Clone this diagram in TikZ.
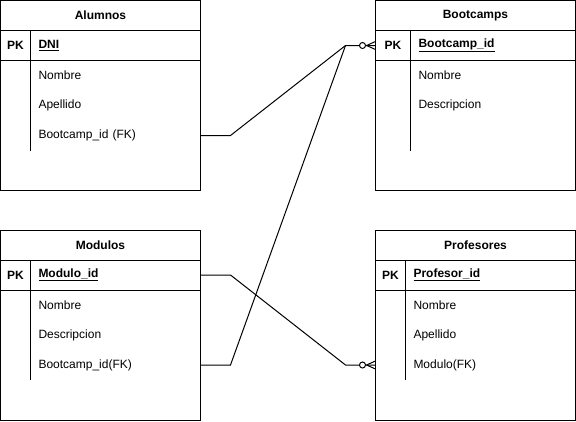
\documentclass[tikz,border=0pt]{standalone}
\usepackage{fontspec}
\setmainfont{Liberation Sans}
\usetikzlibrary{positioning}
\newcommand{\erfont}{\fontsize{12pt}{14pt}\selectfont}
\tikzstyle{entity} = [rectangle, draw=black, line width=1pt, minimum width=200pt, minimum height=190pt, inner sep=0, outer sep=0, anchor=north west]
\tikzstyle{heading} = [rectangle, minimum width=200pt, minimum height=30pt, inner sep=0, outer sep=0, font=\erfont\bfseries]
\tikzstyle{pkcell} = [rectangle, minimum width=30pt, minimum height=30pt, inner sep=0, outer sep=0, font=\erfont\bfseries]
\tikzstyle{attr} = [rectangle, text width=154pt, inner xsep=8pt, inner ysep=0, minimum height=30pt, outer sep=0, align=left, font=\erfont]
\tikzstyle{keyattr} = [attr, font=\erfont\bfseries]
\tikzstyle{divider} = [line width=1pt]
\tikzstyle{relation} = [line width=1pt]
\newcommand{\zeromany}[1]{%
  \draw [relation] ([xshift=-9pt]#1) -- ([yshift=4pt]#1)
                   ([xshift=-9pt]#1) -- ([yshift=-4pt]#1);
  \draw [relation, fill=white] ([xshift=-13pt]#1) circle (3pt);
}
\begin{document}
\begin{tikzpicture}[x=1pt, y=-1pt]
\useasboundingbox (0,0) rectangle (576,421);

% Alumnos
\node (alumnos) [entity] at (0.5,0.5) {};
\node (alumnosTitle) [heading, below=0pt of alumnos.north] {Alumnos};
\node (alumnosPK) [pkcell, below right=30pt and 0pt of alumnos.north west] {PK};
\node (alumnosDNI) [keyattr, right=0pt of alumnosPK] {\underline{DNI}};
\node (alumnosNombre) [attr, below=0pt of alumnosDNI] {Nombre};
\node (alumnosApellido) [attr, below=0pt of alumnosNombre] {Apellido};
\node (alumnosFK) [attr, below=0pt of alumnosApellido] {Bootcamp\_id (FK)};
\draw [divider] (alumnosPK.north west) -- (alumnosDNI.north east);
\draw [divider] (alumnosPK.south west) -- (alumnosDNI.south east);
\draw [divider] (alumnosDNI.north west) -- (alumnosFK.south west);

% Bootcamps
\node (bootcamps) [entity] at (375.5,0.5) {};
\node (bootcampsTitle) [heading, below=0pt of bootcamps.north] {Bootcamps};
\node (bootcampsPK) [pkcell, minimum width=35pt, below right=30pt and 0pt of bootcamps.north west] {PK};
\node (bootcampsId) [keyattr, text width=149pt, right=0pt of bootcampsPK] {\underline{Bootcamp\_id}};
\node (bootcampsNombre) [attr, text width=149pt, below=0pt of bootcampsId] {Nombre};
\node (bootcampsDesc) [attr, text width=149pt, below=0pt of bootcampsNombre] {Descripcion};
\draw [divider] (bootcampsPK.north west) -- (bootcampsId.north east);
\draw [divider] (bootcampsPK.south west) -- (bootcampsId.south east);
\draw [divider] (bootcampsId.north west) -- ([yshift=-30pt]bootcampsDesc.south west);

% Modulos
\node (modulos) [entity] at (0.5,230) {};
\node (modulosTitle) [heading, below=0pt of modulos.north] {Modulos};
\node (modulosPK) [pkcell, below right=30pt and 0pt of modulos.north west] {PK};
\node (modulosId) [keyattr, right=0pt of modulosPK] {\underline{Modulo\_id}};
\node (modulosNombre) [attr, below=0pt of modulosId] {Nombre};
\node (modulosDesc) [attr, below=0pt of modulosNombre] {Descripcion};
\node (modulosFK) [attr, below=0pt of modulosDesc] {Bootcamp\_id(FK)};
\draw [divider] (modulosPK.north west) -- (modulosId.north east);
\draw [divider] (modulosPK.south west) -- (modulosId.south east);
\draw [divider] (modulosId.north west) -- (modulosFK.south west);

% Profesores
\node (profesores) [entity] at (375.5,230) {};
\node (profesoresTitle) [heading, below=0pt of profesores.north] {Profesores};
\node (profesoresPK) [pkcell, below right=30pt and 0pt of profesores.north west] {PK};
\node (profesoresId) [keyattr, right=0pt of profesoresPK] {\underline{Profesor\_id}};
\node (profesoresNombre) [attr, below=0pt of profesoresId] {Nombre};
\node (profesoresApellido) [attr, below=0pt of profesoresNombre] {Apellido};
\node (profesoresFK) [attr, below=0pt of profesoresApellido] {Modulo(FK)};
\draw [divider] (profesoresPK.north west) -- (profesoresId.north east);
\draw [divider] (profesoresPK.south west) -- (profesoresId.south east);
\draw [divider] (profesoresId.north west) -- (profesoresFK.south west);
\coordinate (profesoresIn) at (profesores.west |- profesoresFK.west);

% relations
\draw [relation] (alumnosFK.east) -- ++(30,0) -- ([xshift=-30pt]bootcampsPK.west) -- (bootcampsPK.west);
\draw [relation] (modulosFK.east) -- ++(30,0) -- ([xshift=-30pt]bootcampsPK.west);
\draw [relation] (modulosId.east) -- ++(30,0) -- ([xshift=-30pt]profesoresIn) -- (profesoresIn);
\zeromany{bootcampsPK.west}
\zeromany{profesoresIn}

\end{tikzpicture}
\end{document}
